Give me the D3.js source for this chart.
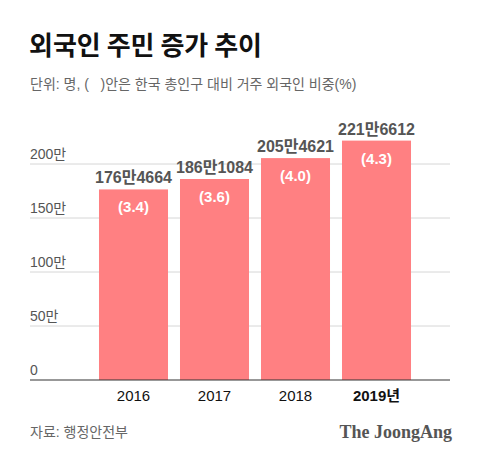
<!DOCTYPE html>
<html>
<head>
<meta charset="utf-8">
<script src="https://cdn.jsdelivr.net/npm/d3@7"></script>
<style>
  body { margin: 0; background: #fff; }
  svg { display: block; font-family: "Liberation Sans", "Noto Sans CJK KR", sans-serif; }
  text { white-space: pre; }
</style>
</head>
<body>
<svg id="chart" width="480" height="459"></svg>
<script>
// data (unit: 만 명)
var years = ["2016", "2017", "2018", "2019"];
var residents = [176.4664, 186.1084, 205.4621, 221.6612];
var valueLabels = ["176만4664", "186만1084", "205만4621", "221만6612"];
var shareLabels = ["(3.4)", "(3.6)", "(4.0)", "(4.3)"];
var yearLabels = ["2016", "2017", "2018", "2019년"];
var yTicks = [0, 50, 100, 150, 200];

var svg = d3.select("#chart");

var x = d3.scaleBand()
    .domain(years)
    .range([93, 417])
    .paddingInner(0.148)
    .paddingOuter(0.074);

var y = d3.scaleLinear()
    .domain([0, 200])
    .range([380, 164]);

// title
svg.append("text")
    .attr("x", 29).attr("y", 55)
    .attr("font-family", "'Noto Sans CJK KR', sans-serif")
    .attr("font-size", 26).attr("font-weight", 700)
    .attr("fill", "#111")
    .text("외국인 주민 증가 추이");

svg.append("text")
    .attr("x", 30).attr("y", 89)
    .attr("font-size", 14)
    .attr("fill", "#666")
    .text("단위: 명, (   )안은 한국 총인구 대비 거주 외국인 비중(%)");

// grid lines + tick labels
var grid = svg.append("g");
yTicks.forEach(function(t) {
    if (t > 0) {
        grid.append("line")
            .attr("x1", 30).attr("x2", 450)
            .attr("y1", y(t)).attr("y2", y(t))
            .attr("stroke", "#d6d6d6").attr("stroke-width", 1);
    }
    grid.append("text")
        .attr("x", 30).attr("y", y(t) - 5)
        .attr("font-size", 14)
        .attr("fill", "#555")
        .text(t == 0 ? "0" : t + "만");
});

// bars
var data = years.map(function(d, i) {
    return {year: d, v: residents[i], label: valueLabels[i], share: shareLabels[i], xl: yearLabels[i]};
});

svg.selectAll("rect.bar")
    .data(data)
    .enter().append("rect")
    .attr("class", "bar")
    .attr("x", d => x(d.year))
    .attr("y", d => y(d.v))
    .attr("width", x.bandwidth())
    .attr("height", d => y(0) - y(d.v))
    .attr("fill", "#ff8082");

svg.selectAll("text.val")
    .data(data)
    .enter().append("text")
    .attr("class", "val")
    .attr("x", d => x(d.year) + x.bandwidth() / 2)
    .attr("y", d => y(d.v) - 6)
    .attr("text-anchor", "middle")
    .attr("font-size", 16).attr("font-weight", 700)
    .attr("fill", "#555")
    .text(d => d.label);

svg.selectAll("text.share")
    .data(data)
    .enter().append("text")
    .attr("class", "share")
    .attr("x", d => x(d.year) + x.bandwidth() / 2)
    .attr("y", d => y(d.v) + 23)
    .attr("text-anchor", "middle")
    .attr("font-size", 15).attr("font-weight", 700)
    .attr("fill", "#fff")
    .text(d => d.share);

// baseline
svg.append("line")
    .attr("x1", 30).attr("x2", 450)
    .attr("y1", y(0)).attr("y2", y(0))
    .attr("stroke", "#333").attr("stroke-width", 1.2);

svg.selectAll("text.xl")
    .data(data)
    .enter().append("text")
    .attr("class", "xl")
    .attr("x", d => x(d.year) + x.bandwidth() / 2)
    .attr("y", 401)
    .attr("text-anchor", "middle")
    .attr("font-size", 15)
    .attr("font-weight", (d, i) => i == data.length - 1 ? 700 : 400)
    .attr("fill", "#111")
    .text(d => d.xl);

// footer
svg.append("text")
    .attr("x", 30).attr("y", 437)
    .attr("font-size", 14)
    .attr("fill", "#666")
    .text("자료: 행정안전부");

svg.append("text")
    .attr("x", 452).attr("y", 438)
    .attr("text-anchor", "end")
    .attr("font-family", "'Liberation Serif', serif")
    .attr("font-size", 18).attr("font-weight", 700)
    .attr("fill", "#555")
    .text("The JoongAng");
</script>
</body>
</html>
